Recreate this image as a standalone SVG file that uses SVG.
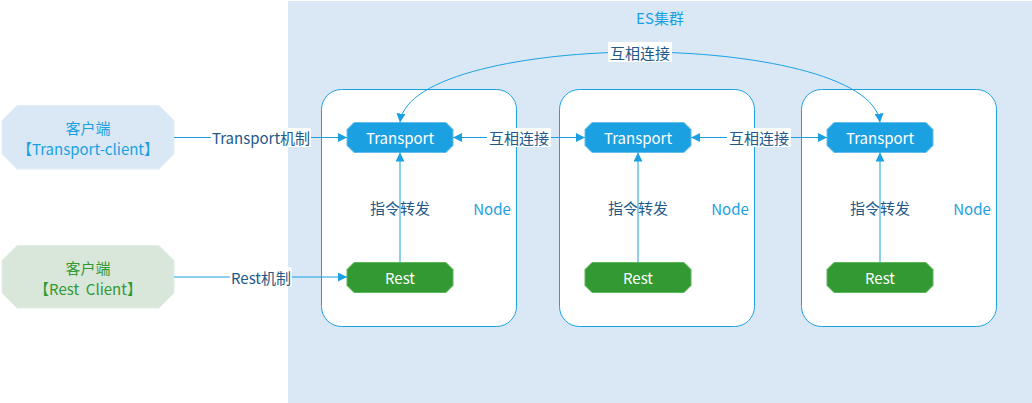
<svg xmlns="http://www.w3.org/2000/svg" width="1032" height="403" viewBox="0 0 1032 403">
<style>
text{font-family:"Noto Sans CJK SC","Noto Sans",sans-serif;font-size:15px;text-anchor:middle;dominant-baseline:central;white-space:pre}
.box{fill:#fff;stroke:#1ba1e2;stroke-width:1}
.tp{fill:#1ba1e2;stroke:#66bdea;stroke-width:1}
.rs{fill:#339933;stroke:#5cb85c;stroke-width:1}
.wt{fill:#fff}
.lbl{fill:#22598a}
.node{fill:#1ba1e2}
.edge{fill:none;stroke:#1ba1e2;stroke-width:1}
.lb{fill:#fff}
</style>
<defs>
<marker id="ah" viewBox="0 0 10 10" refX="10" refY="5" markerWidth="9" markerHeight="9" markerUnits="userSpaceOnUse" orient="auto-start-reverse">
<path d="M0,0 L10,5 L0,10 z" fill="#1ba1e2"/>
</marker>
</defs>
<rect x="0" y="0" width="1032" height="403" fill="#fff"/>
<g id="cluster">
<rect x="288" y="1" width="744" height="402" fill="#dae8f6"/>
<text x="660" y="17" class="node">ES集群</text>
</g>
<g id="node1">
<rect class="box" x="321.5" y="89.5" width="195" height="237" rx="20"/>
<text x="492" y="208" class="node">Node</text>
</g>
<g id="node2">
<rect class="box" x="559.5" y="89.5" width="195" height="237" rx="20"/>
<text x="730" y="208" class="node">Node</text>
</g>
<g id="node3">
<rect class="box" x="801.5" y="89.5" width="195" height="237" rx="20"/>
<text x="972" y="208" class="node">Node</text>
</g>
<g id="client-transport">
<polygon points="17,105.5 159,105.5 174,120.5 174,154 159,169 17,169 2,154 2,120.5" fill="#dae8f6" stroke="#e4eef9"/>
<text x="88" y="127" class="node">客户端</text>
<text x="88" y="148" class="node">【Transport-client】</text>
</g>
<g id="client-rest">
<polygon points="17,245.5 159,245.5 174,260.5 174,293 159,308 17,308 2,293 2,260.5" fill="#d9e7db" stroke="#e2ede3"/>
<text x="88" y="267" fill="#339933">客户端</text>
<text x="88" y="288" fill="#339933">【Rest  Client】</text>
</g>
<g id="transport1">
<polygon class="tp" points="354,122.5 446,122.5 453,129.5 453,145.5 446,152.5 354,152.5 347,145.5 347,129.5"/>
<text x="400" y="137.5" class="wt">Transport</text>
</g>
<g id="transport2">
<polygon class="tp" points="592,122.5 684,122.5 691,129.5 691,145.5 684,152.5 592,152.5 585,145.5 585,129.5"/>
<text x="638" y="137.5" class="wt">Transport</text>
</g>
<g id="transport3">
<polygon class="tp" points="834,122.5 926,122.5 933,129.5 933,145.5 926,152.5 834,152.5 827,145.5 827,129.5"/>
<text x="880" y="137.5" class="wt">Transport</text>
</g>
<g id="rest1">
<polygon class="rs" points="354,262.5 446,262.5 453,269.5 453,285.5 446,292.5 354,292.5 347,285.5 347,269.5"/>
<text x="400" y="277" class="wt">Rest</text>
</g>
<g id="rest2">
<polygon class="rs" points="592,262.5 684,262.5 691,269.5 691,285.5 684,292.5 592,292.5 585,285.5 585,269.5"/>
<text x="638" y="277" class="wt">Rest</text>
</g>
<g id="rest3">
<polygon class="rs" points="834,262.5 926,262.5 933,269.5 933,285.5 926,292.5 834,292.5 827,285.5 827,269.5"/>
<text x="880" y="277" class="wt">Rest</text>
</g>
<g id="connectors">
<path class="edge" d="M174,137.5 H347" marker-end="url(#ah)"/>
<path class="edge" d="M174,277 H347" marker-end="url(#ah)"/>
<path class="edge" d="M453,137.5 H585" marker-start="url(#ah)" marker-end="url(#ah)"/>
<path class="edge" d="M691,137.5 H827" marker-start="url(#ah)" marker-end="url(#ah)"/>
<path class="edge" d="M400,262.5 V152.5" marker-end="url(#ah)"/>
<path class="edge" d="M638,262.5 V152.5" marker-end="url(#ah)"/>
<path class="edge" d="M880,262.5 V152.5" marker-end="url(#ah)"/>
<path class="edge" d="M400,122.5 C405,75 530,52 640,52 C750,52 875,75 880,122.5" marker-start="url(#ah)" marker-end="url(#ah)"/>
<rect class="lb" x="211" y="128" width="100" height="19"/>
<text x="261" y="137.5" class="lbl">Transport机制</text>
<rect class="lb" x="230" y="267.5" width="62" height="19"/>
<text x="261" y="277" class="lbl">Rest机制</text>
<rect class="lb" x="487" y="128" width="64" height="19"/>
<text x="519" y="137.5" class="lbl">互相连接</text>
<rect class="lb" x="727" y="128" width="64" height="19"/>
<text x="759" y="137.5" class="lbl">互相连接</text>
<rect class="lb" x="608" y="42" width="64" height="20"/>
<text x="640" y="52" class="lbl">互相连接</text>
<text x="400" y="207" class="lbl">指令转发</text>
<text x="638" y="207" class="lbl">指令转发</text>
<text x="880" y="207" class="lbl">指令转发</text>
</g>
</svg>
